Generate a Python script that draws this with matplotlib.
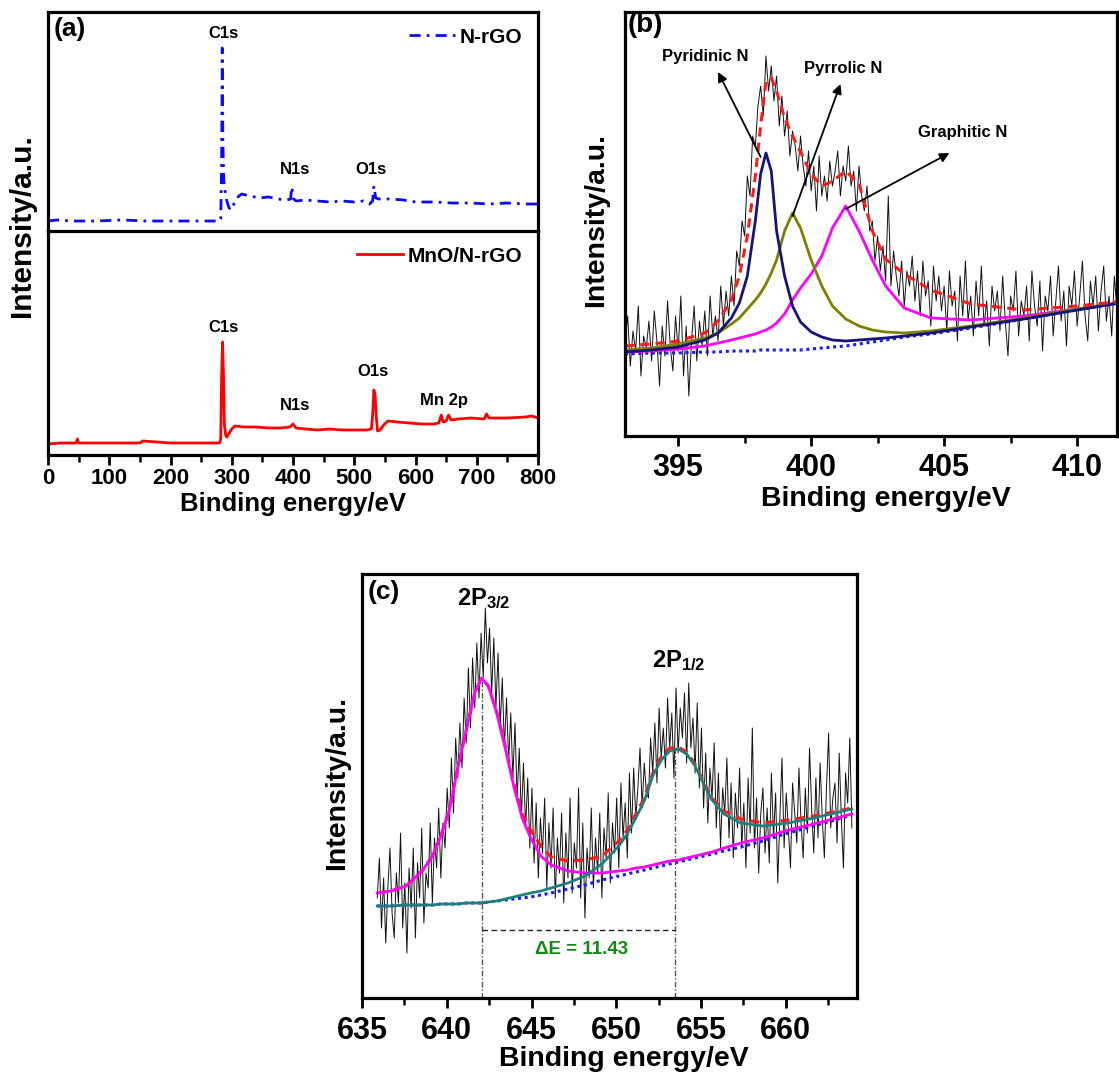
import numpy as np
import matplotlib
matplotlib.use('Agg')
import matplotlib.pyplot as plt
from matplotlib.ticker import MultipleLocator

plt.rcParams['font.family'] = ['Liberation Sans', 'DejaVu Sans']
plt.rcParams['font.weight'] = 'bold'
plt.rcParams['axes.labelweight'] = 'bold'
plt.rcParams['mathtext.fontset'] = 'custom'
plt.rcParams['mathtext.rm'] = 'Liberation Sans:bold'
plt.rcParams['mathtext.it'] = 'Liberation Sans:bold'
plt.rcParams['mathtext.bf'] = 'Liberation Sans:bold'

# ---------------- (a) survey spectra ----------------
survey_top_e = [0, 15, 40, 80, 120, 160, 200, 240, 280, 282, 283.5, 284.5, 285.5, 287, 289, 292, 295,
                298, 302, 308, 316, 330, 345, 360, 375, 390, 396, 398, 401, 405, 420, 440, 460, 480,
                500, 515, 525, 530, 532, 535, 540, 560, 580, 600, 630, 660, 690, 720, 750, 780, 800]
survey_top_i = [10, 11, 10, 10, 11, 10, 10, 10, 10, 12, 70, 183, 90, 50, 40, 30, 24,
                21, 25, 33, 37, 35, 33, 34, 32, 31, 32, 44, 32, 30, 31, 30, 29, 30,
                29, 30, 27, 30, 45, 33, 32, 32, 31, 29, 29, 28, 28, 27, 28, 27, 27]

survey_bot_e = [0, 20, 40, 46, 48, 50, 60, 100, 150, 155, 200, 250, 280, 282, 283.5, 285, 286.5, 288,
                290, 292, 296, 300, 305, 320, 340, 360, 380, 395, 400, 405, 420, 440, 460, 480, 500,
                520, 528, 530, 532, 534, 536, 538, 542, 548, 555, 570, 590, 610, 630, 638, 642, 645,
                650, 654, 658, 670, 690, 712, 716, 720, 750, 780, 790, 800]
survey_bot_i = [11, 12, 12, 12, 16, 12, 12, 12, 12, 14, 12, 12, 12, 16, 80, 113, 80, 30,
                20, 18, 22, 26, 29, 28, 28, 27, 27, 28, 31, 27, 26, 25, 26, 25, 25,
                25, 26, 40, 65, 60, 38, 24, 25, 30, 34, 33, 32, 31, 31, 32, 40, 33,
                34, 40, 35, 36, 37, 36, 41, 37, 37, 38, 39, 37]

top_peaks = [('C1s', 286, 197), ('N1s', 403, 62), ('O1s', 528, 62)]
bot_peaks = [('C1s', 286, 128), ('N1s', 403, 50), ('O1s', 530, 83), ('Mn 2p', 646, 55)]

# ---------------- (b) N 1s ----------------
n1s_start, n1s_step = 393.0, 0.1
n1s_raw = [95, 120, 70, 105, 85, 130, 60, 100, 88, 115,
           75, 125, 95, 50, 110, 80, 135, 90, 65, 120,
           85, 140, 60, 110, 40, 95, 130, 75, 115, 90,
           125, 80, 140, 100, 120, 95, 150, 110, 145, 120,
           160, 130, 185, 170, 215, 200, 260, 240, 300, 290,
           330, 350, 320, 380, 345, 370, 335, 360, 310, 340,
           300, 325, 280, 305, 290, 265, 300, 270, 250, 285,
           245, 270, 225, 280, 240, 260, 235, 275, 250, 265,
           285, 240, 270, 255, 290, 250, 265, 225, 270, 240,
           225, 250, 205, 215, 175, 200, 165, 190, 155, 240,
           150, 185, 160, 140, 175, 130, 165, 150, 180, 135,
           165, 120, 175, 140, 155, 110, 170, 135, 160, 125,
           150, 105, 165, 130, 145, 95, 160, 120, 175, 115,
           140, 100, 155, 120, 170, 110, 135, 90, 150, 125,
           145, 105, 160, 115, 80, 140, 125, 165, 100, 135,
           120, 150, 95, 165, 130, 110, 155, 85, 140, 125,
           160, 100, 135, 170, 115, 145, 90, 150, 130, 165,
           110, 140, 175, 120, 95, 155, 130, 160, 105, 145,
           170, 115, 140, 100, 160, 125, 150, 110, 145]

n1s_fit_e = [393, 394, 395, 396, 396.5, 397, 397.3, 397.6, 397.9, 398.1, 398.3, 398.5, 398.7, 399,
             399.3, 399.6, 400, 400.4, 400.8, 401.3, 401.8, 402.3, 402.8, 403.5, 404.5, 406, 408,
             410, 411.8]
n1s_bg = [82, 83, 83, 84, 84, 85, 85, 85, 85, 86, 86, 86, 86, 86,
          86, 86, 87, 88, 89, 90, 92, 94, 96, 99, 102, 108, 117, 126, 134]
n1s_pyridinic = [84, 86, 89, 96, 103, 118, 133, 160, 215, 262, 283, 265, 205, 160,
                 130, 114, 104, 99, 96, 95, 96, 97, 98, 100, 103, 109, 117, 126, 134]
n1s_pyrrolic = [86, 88, 92, 98, 103, 112, 118, 127, 136, 143, 152, 163, 176, 205,
                223, 208, 176, 150, 130, 117, 110, 106, 104, 103, 105, 110, 118, 127, 134]
n1s_graphitic = [84, 85, 87, 90, 93, 96, 98, 100, 102, 104, 106, 109, 113, 122,
                 136, 148, 162, 180, 208, 230, 205, 176, 150, 128, 118, 116, 120, 127, 134]
n1s_envelope = [90, 92, 95, 103, 115, 136, 160, 200, 260, 310, 355, 358, 345, 318,
                300, 284, 262, 250, 255, 265, 252, 205, 177, 162, 146, 132, 126, 130, 135]

# (label, text position, arrow tail, arrow head)
n1s_labels = [('Pyridinic N', (396.0, 379), (398.1, 279), (396.5, 364)),
              ('Pyrrolic N', (401.2, 367), (399.3, 220), (401.1, 352)),
              ('Graphitic N', (405.7, 303), (401.3, 227), (405.2, 283))]

# ---------------- (c) Mn 2p ----------------
mn_start, mn_step = 635.9, 0.125
mn_raw = [100, 140, 70, 120, 55, 110, 150, 85,
          60, 125, 95, 165, 70, 115, 45, 130,
          90, 150, 60, 135, 100, 170, 75, 125,
          110, 175, 95, 160, 130, 190, 120, 175,
          150, 210, 170, 240, 185, 260, 220, 275,
          230, 300, 255, 330, 270, 340, 290, 355,
          300, 365, 320, 390, 335, 370, 305, 360,
          290, 345, 270, 320, 250, 300, 235, 285,
          220, 275, 200, 250, 180, 235, 170, 220,
          150, 210, 135, 195, 120, 180, 145, 200,
          110, 175, 130, 190, 100, 160, 125, 185,
          95, 165, 120, 200, 105, 155, 130, 210,
          100, 175, 80, 150, 120, 190, 110, 160,
          125, 185, 100, 170, 140, 205, 115, 175,
          145, 200, 130, 215, 160, 195, 140, 225,
          165, 230, 180, 210, 250, 190, 235, 205,
          200, 260, 225, 275, 215, 290, 240, 270,
          230, 300, 250, 285, 220, 310, 245, 290,
          260, 305, 235, 315, 250, 280, 225, 295,
          210, 270, 190, 245, 175, 230, 200, 255,
          170, 225, 150, 210, 185, 240, 160, 215,
          140, 205, 170, 230, 150, 195, 130, 220,
          165, 270, 150, 200, 125, 185, 210, 145,
          190, 135, 225, 160, 205, 115, 180, 240,
          150, 205, 170, 130, 215, 185, 155, 230,
          175, 140, 210, 165, 250, 190, 145, 220,
          160, 235, 180, 140, 210, 265, 170, 200,
          215, 155, 245, 180, 130, 225, 195, 260,
          170]

mn_fit_e = [635.9, 636.7, 637.6, 638.6, 639.15, 639.65, 640.15, 640.65, 641.15, 641.65, 642.05,
            642.45, 642.95, 643.45, 643.95, 644.45, 644.95, 645.55, 646.15, 647.15, 648.15, 649.15,
            650.15, 650.65, 651.15, 651.65, 652.15, 652.65, 653.15, 653.65, 654.15, 654.65, 655.15,
            655.65, 656.35, 657.35, 658.65, 660.15, 661.65, 663.9]
mn_bg = [92, 92, 93, 93, 93, 94, 94, 94, 95, 95, 95,
         96, 97, 98, 99, 100, 101, 103, 105, 109, 113, 118,
         122, 124, 126, 128, 130, 132, 134, 136, 138, 140, 142,
         144, 147, 151, 157, 165, 172, 183]
mn_p32 = [105, 107, 112, 128, 142, 162, 188, 230, 268, 305, 320,
          312, 285, 250, 212, 180, 160, 142, 133, 127, 125, 125,
          127, 128, 130, 131, 133, 135, 137, 138, 140, 142, 144,
          146, 150, 155, 160, 168, 174, 184]
mn_p12 = [92, 92, 93, 93, 93, 94, 94, 94, 95, 95, 95,
          96, 97, 99, 101, 103, 105, 107, 110, 115, 122, 134,
          152, 164, 180, 197, 222, 238, 247, 249, 244, 232, 214,
          198, 184, 175, 172, 175, 180, 189]
mn_envelope = [105, 107, 112, 128, 142, 162, 188, 230, 268, 305, 320,
               312, 286, 252, 215, 184, 168, 152, 141, 137, 138, 142,
               157, 168, 184, 200, 225, 241, 250, 251, 246, 234, 216,
               200, 187, 179, 175, 178, 182, 190]
p32_pos, p32_top = 642.06, 318
p12_pos, p12_top = 653.49, 250

BIG = 22
LAB = 20.5


def style_axis(ax, tick_size, major, minor, pad):
    for s in ax.spines.values():
        s.set_linewidth(2.3)
    ax.set_yticks([])
    ax.xaxis.set_major_locator(MultipleLocator(major))
    ax.xaxis.set_minor_locator(MultipleLocator(minor))
    ax.tick_params(axis='x', which='major', direction='out', length=7, width=2,
                   labelsize=tick_size, pad=pad)
    ax.tick_params(axis='x', which='minor', direction='out', length=5, width=1.8)
    for lab in ax.get_xticklabels():
        lab.set_fontweight('bold')


fig = plt.figure(figsize=(11.19, 10.74), dpi=100)
W, H = 1119, 1074


def rect(l, t, r, b):
    return [l / W, 1 - b / H, (r - l) / W, (b - t) / H]


# ---- panel (a)
ax_t = fig.add_axes(rect(48, 12, 538, 231))
ax_b = fig.add_axes(rect(48, 231, 538, 455), sharex=ax_t)
ax_t.plot(survey_top_e, survey_top_i, color='#0a0aff', lw=2, ls=(0, (4, 2.2, 1, 2.2)), label='N-rGO')
ax_b.plot(survey_bot_e, survey_bot_i, color='#ff0000', lw=2, label='MnO/N-rGO')
ax_t.set_xlim(0, 800)
ax_t.set_ylim(0, 219)
ax_b.set_ylim(0, 224)
for ax in (ax_t, ax_b):
    style_axis(ax, 16, 100, 50, 2)
ax_t.tick_params(axis='x', which='both', bottom=False, labelbottom=False)
ax_t.spines['bottom'].set_visible(False)
for name, e, i in top_peaks:
    ax_t.text(e, i, name, ha='center', va='center', fontsize=12, fontweight='bold')
for name, e, i in bot_peaks:
    ax_b.text(e, i, name, ha='center', va='center', fontsize=12, fontweight='bold')
ax_t.legend(loc='upper right', frameon=False, fontsize=15, handlelength=2.2,
            handletextpad=0.25, borderaxespad=0.35)
ax_b.legend(loc='upper right', frameon=False, fontsize=15, handlelength=2.2,
            handletextpad=0.25, borderaxespad=0.35)
ax_t.text(0.012, 0.975, '(a)', transform=ax_t.transAxes, fontsize=19, fontweight='bold', va='top')
ax_b.set_xlabel('Binding energy/eV', fontsize=18.5)
ax_b.xaxis.set_label_coords(0.5, -0.165)
fig.text(22 / W, 1 - 226 / H, 'Intensity/a.u.', rotation=90, ha='center', va='center',
         fontsize=21.5, fontweight='bold')

# ---- panel (b)
ax2 = fig.add_axes(rect(625, 12, 1117, 436))
n1s_e = n1s_start + n1s_step * np.arange(len(n1s_raw))
ax2.plot(n1s_e, n1s_raw, color='#111111', lw=0.7)
ax2.plot(n1s_fit_e, n1s_bg, color='#1a1aff', lw=2.2, ls=(0, (1, 1.2)))
ax2.plot(n1s_fit_e, n1s_graphitic, color='#ff00ff', lw=2)
ax2.plot(n1s_fit_e, n1s_pyrrolic, color='#7f7f00', lw=2)
ax2.plot(n1s_fit_e, n1s_pyridinic, color='#14147a', lw=2)
ax2.plot(n1s_fit_e, n1s_envelope, color='#ff1a1a', lw=2.2, ls=(0, (3, 2)))
for name, (tx, ty), tail, head in n1s_labels:
    ax2.annotate('', xy=head, xytext=tail,
                 arrowprops=dict(arrowstyle='-|>', color='k', lw=1.3, mutation_scale=14,
                                 shrinkA=0, shrinkB=0))
    ax2.text(tx, ty, name, ha='center', va='center', fontsize=12, fontweight='bold')
ax2.set_xlim(393, 411.5)
ax2.set_ylim(0, 424)
style_axis(ax2, BIG, 5, 2.5, 5)
ax2.text(0.005, 1.0, '(b)', transform=ax2.transAxes, fontsize=20, fontweight='bold', va='top')
ax2.set_xlabel('Binding energy/eV', fontsize=LAB)
ax2.xaxis.set_label_coords(0.53, -0.118)
fig.text(596 / W, 1 - 220 / H, 'Intensity/a.u.', rotation=90, ha='center', va='center',
         fontsize=LAB, fontweight='bold')

# ---- panel (c)
ax3 = fig.add_axes(rect(362, 574, 857, 998))
mn_e = mn_start + mn_step * np.arange(len(mn_raw))
ax3.plot(mn_e, mn_raw, color='#111111', lw=0.7)
ax3.plot(mn_fit_e, mn_bg, color='#1a1aff', lw=2.2, ls=(0, (1, 1.2)))
ax3.plot(mn_fit_e, mn_envelope, color='#ff1a1a', lw=2.2, ls=(0, (3, 2)))
ax3.plot(mn_fit_e, mn_p32, color='#ff00ff', lw=2)
ax3.plot(mn_fit_e, mn_p12, color='#1f7f7f', lw=2)
ax3.plot([p32_pos, p32_pos], [0, p32_top], color='#555555', lw=1, ls=(0, (4, 1.5, 1, 1.5)))
ax3.plot([p12_pos, p12_pos], [0, p12_top], color='#555555', lw=1, ls=(0, (4, 1.5, 1, 1.5)))
ax3.plot([p32_pos, p12_pos], [68, 68], color='#222222', lw=1, ls=(0, (4, 2.5)))
ax3.text((p32_pos + p12_pos) / 2 + 0.2, 48, f'\u0394E = {p12_pos - p32_pos:.2f}', color='#138a13',
         ha='center', va='center', fontsize=13.5, fontweight='bold')
ax3.text(640.6, 393, r'2P$_{3/2}$', fontsize=17, fontweight='bold', va='baseline')
ax3.text(652.1, 331, r'2P$_{1/2}$', fontsize=17, fontweight='bold', va='baseline')
ax3.set_xlim(635, 664.2)
ax3.set_ylim(0, 424)
style_axis(ax3, BIG, 5, 2.5, 6)
ax3.text(0.012, 0.985, '(c)', transform=ax3.transAxes, fontsize=19, fontweight='bold', va='top')
ax3.set_xlabel('Binding energy/eV', fontsize=LAB)
ax3.xaxis.set_label_coords(0.53, -0.113)
fig.text(337 / W, 1 - 783 / H, 'Intensity/a.u.', rotation=90, ha='center', va='center',
         fontsize=LAB, fontweight='bold')

fig.savefig('out.png', dpi=100, facecolor='white')
